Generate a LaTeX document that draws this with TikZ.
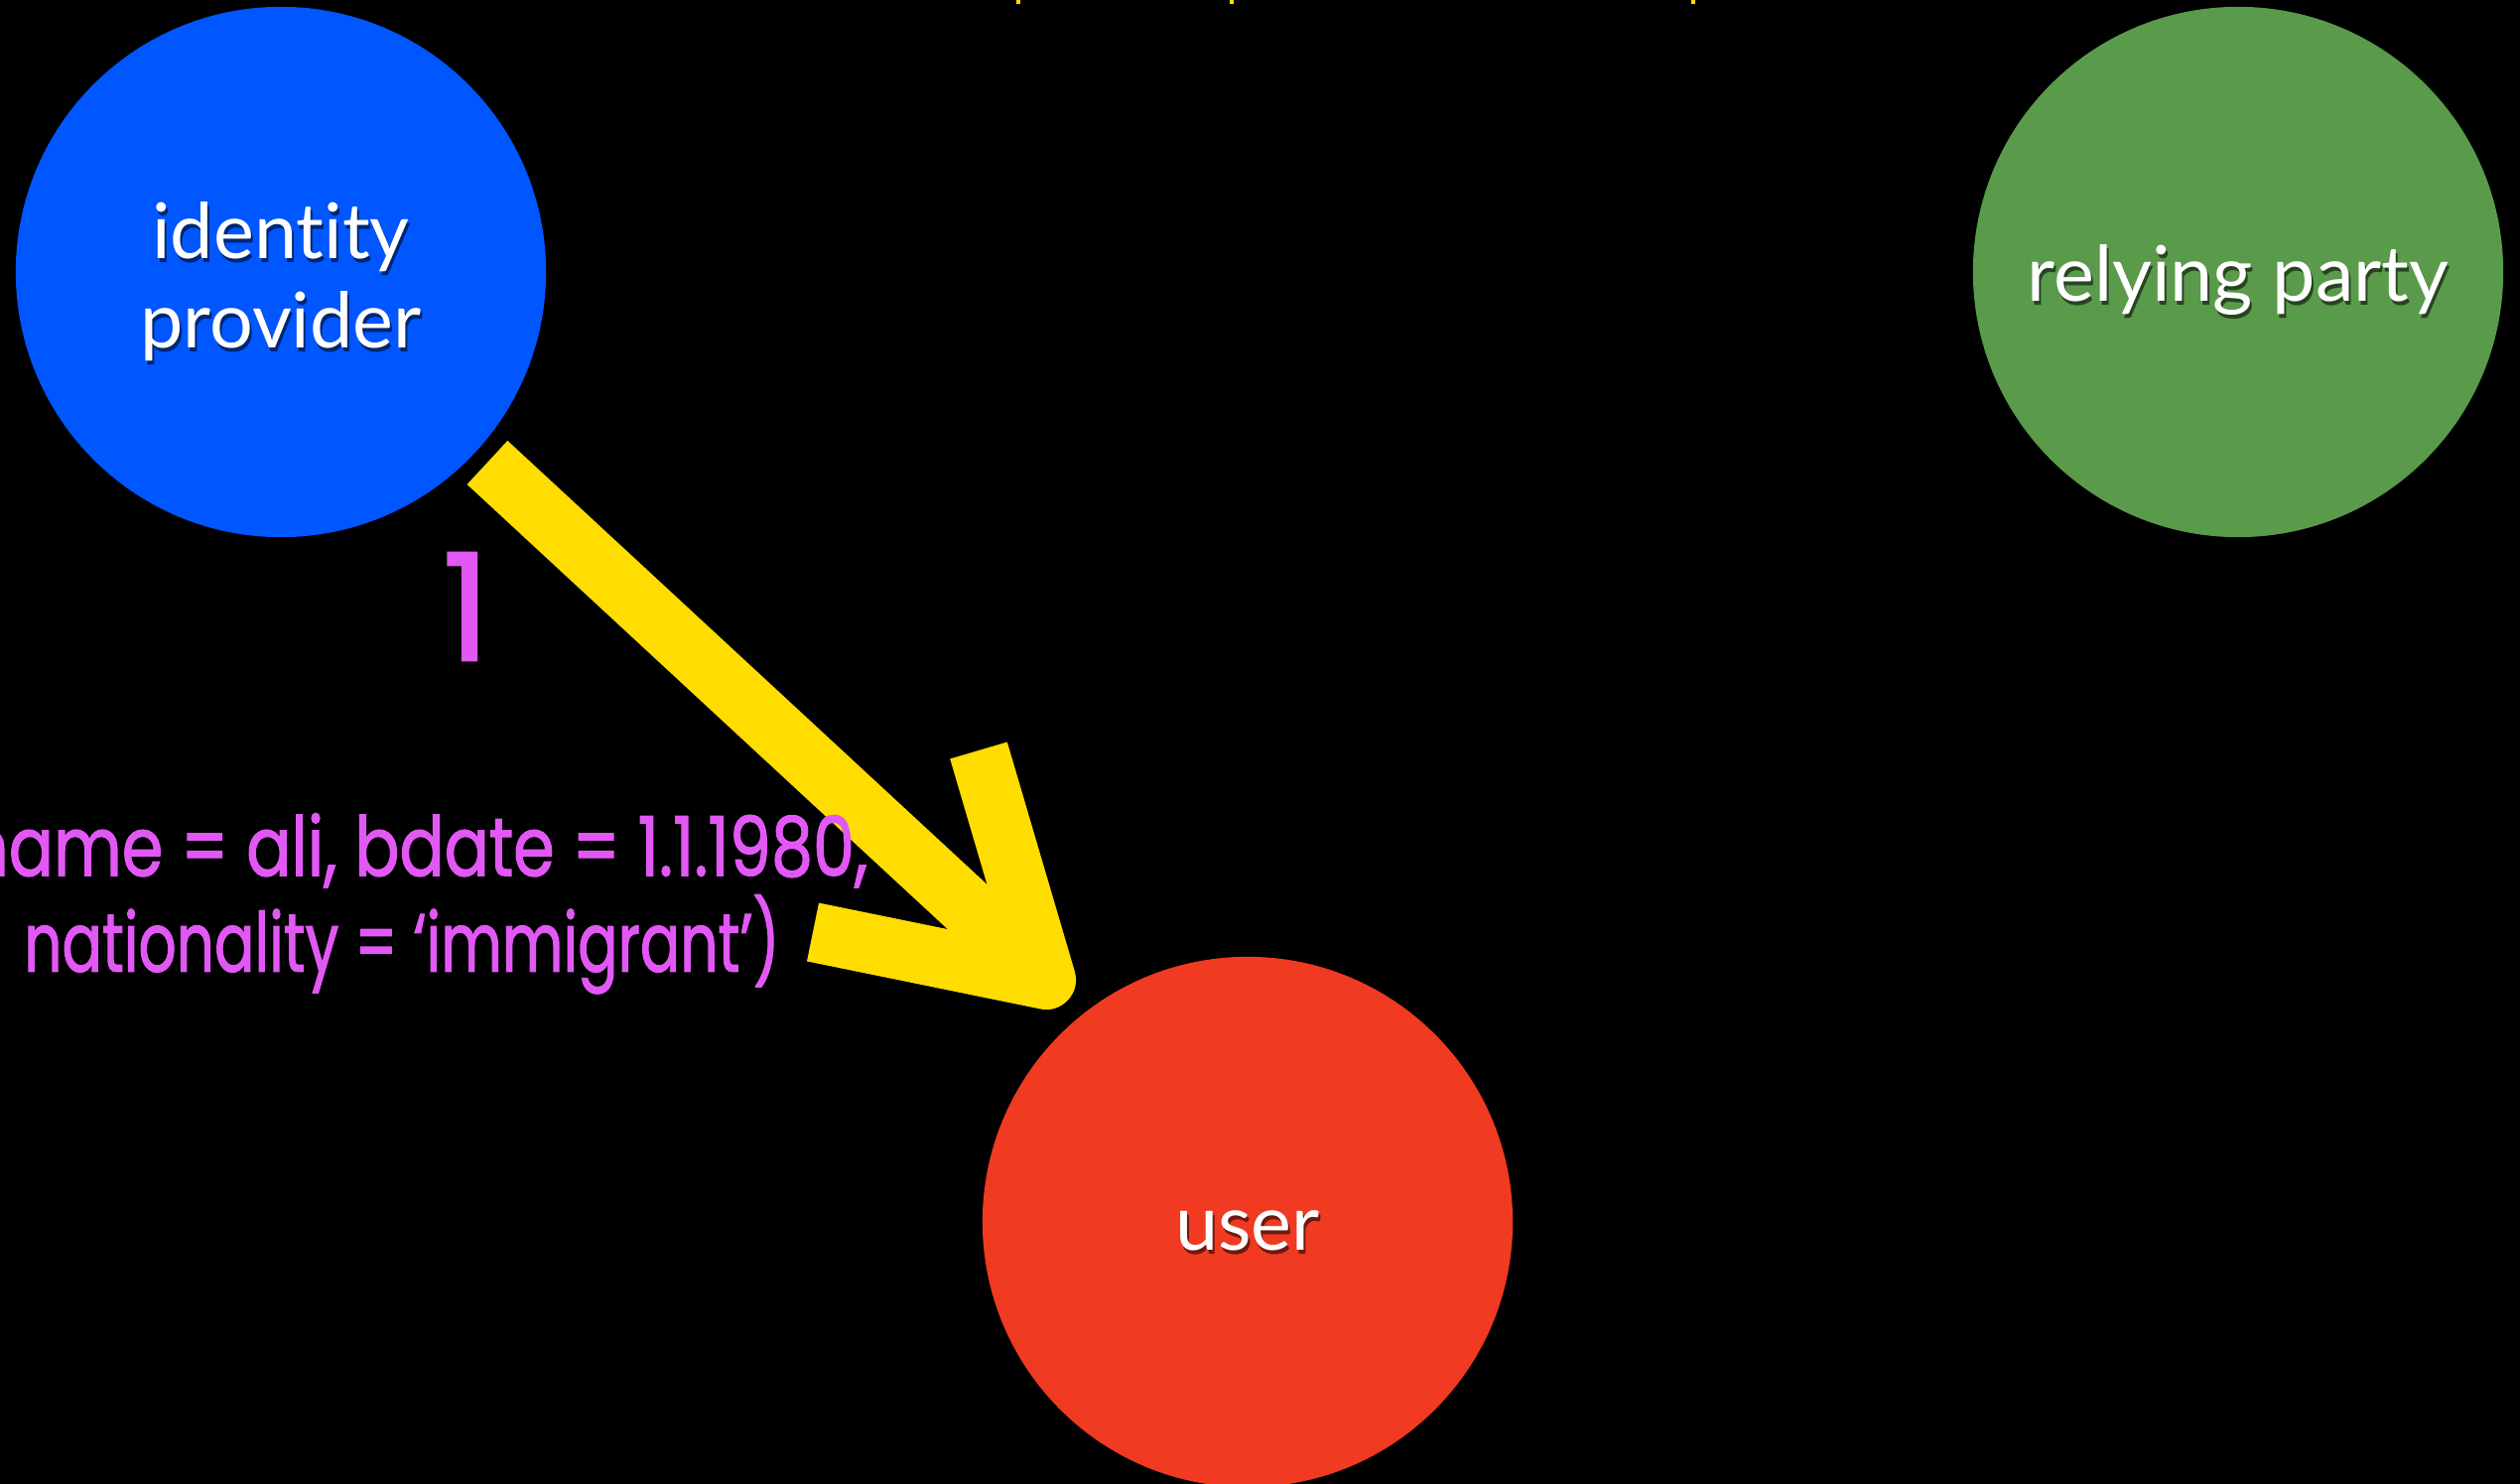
\documentclass[tikz,border=0pt]{standalone}
\usepackage{fontspec}
\setmainfont{Lato}[Ligatures=NoCommon]
\newfontfamily\claimfont{Poppins}[BoldFont={Poppins}, BoldFeatures={FakeBold=1.6}]
\definecolor{idpblue}{RGB}{0,86,255}
\definecolor{rpgreen}{RGB}{90,154,75}
\definecolor{userred}{RGB}{240,58,34}
\definecolor{flowyellow}{RGB}{255,221,0}
\definecolor{claimpink}{RGB}{226,88,245}
\begin{document}
\begin{tikzpicture}[x=0.01cm,y=-0.01cm,
  party/.style={circle, minimum size=5.34cm, inner sep=0pt},
  partytext/.style={text=white, align=center, inner sep=0pt,
    font=\fontsize{22pt}{25.6pt}\selectfont},
  partyshadow/.style={partytext, text=black, opacity=0.55},
  flow/.style={draw=flowyellow, line width=0.6cm},
  claim/.style={text=claimpink, inner sep=0pt, align=center}]
\useasboundingbox (0,0) rectangle (2539,1495);
\fill[black] (0,0) rectangle (2539,1495);

% small marks along the top edge
\foreach \mx in {1026,1241,1706}
  \fill[flowyellow] (\mx-2,0) rectangle (\mx+2,4);

% the three parties
\node[party, fill=idpblue] (idp) at (283,274) {};
\node[party, fill=rpgreen] (rp) at (2255,274) {};
\node[party, fill=userred] (user) at (1257,1231) {};

\node[partyshadow] at ([shift={(2,14)}]idp.center) {identity\\provider};
\node[partytext] (idptext) at ([shift={(0,10)}]idp.center) {identity\\provider};
\node[partyshadow] at ([shift={(2,12)}]rp.center) {relying party};
\node[partytext] (rptext) at ([shift={(0,8)}]rp.center) {relying party};
\node[partyshadow] at ([shift={(2,13)}]user.center) {user};
\node[partytext] (usertext) at ([shift={(0,9)}]user.center) {user};

% step 1: the identity provider issues the attributes to the user
\coordinate (tail) at (491,466);
\coordinate (tip) at (1054,987);
\coordinate (barbA) at (986,756);
\coordinate (barbB) at (819,939);
\draw[flow, line cap=butt] (tail) -- (tip);
\draw[flow, line cap=butt, line join=round] (barbA) -- (tip) -- (barbB);

\node[claim, font=\claimfont\bfseries\fontsize{42.7pt}{44pt}\selectfont] (step) at (470,611) {1};
\node[claim, font=\claimfont\bfseries\fontsize{23.6pt}{25.3pt}\selectfont] (attrs) at (405,903)
  {\resizebox{9.38cm}{\height}{(name = ali, bdate = 1.1.1980,}\\
   \resizebox{7.61cm}{\height}{nationality = ‘immigrant’)}};
\end{tikzpicture}
\end{document}
